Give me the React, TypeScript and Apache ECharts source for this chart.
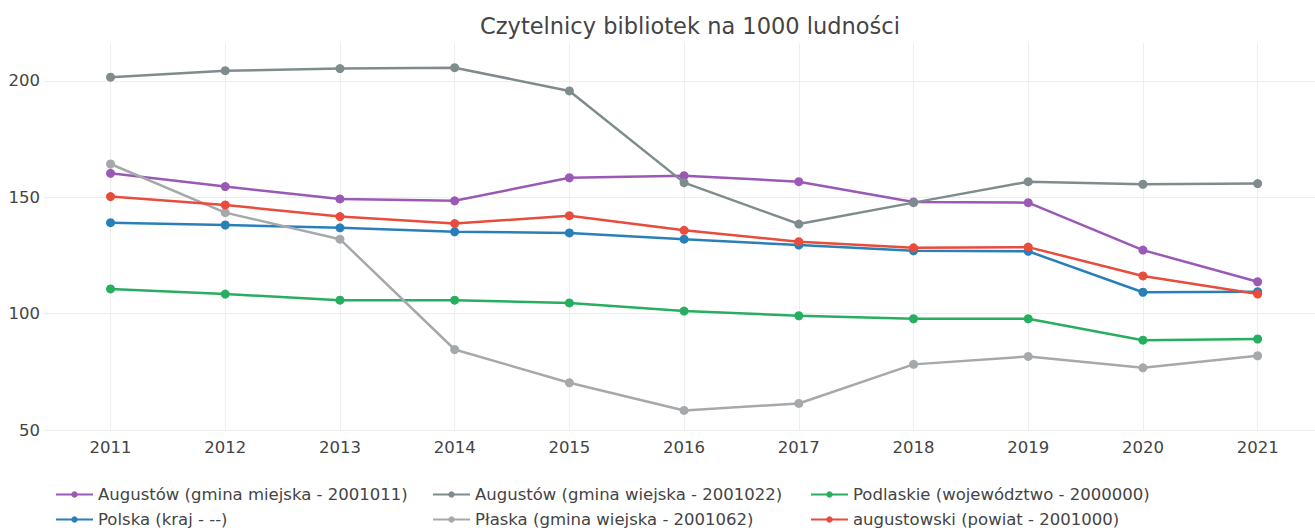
import React, { useEffect, useRef } from "react";
import * as echarts from "echarts";

const years = [2011, 2012, 2013, 2014, 2015, 2016, 2017, 2018, 2019, 2020, 2021];
const yTicks = [50, 100, 150, 200];

const seriesNames = [
  "Augustów (gmina miejska - 2001011)",
  "Augustów (gmina wiejska - 2001022)",
  "Podlaskie (województwo - 2000000)",
  "Polska (kraj - --)",
  "Płaska (gmina wiejska - 2001062)",
  "augustowski (powiat - 2001000)",
];

const augustowMiejska = [160.3, 154.6, 149.3, 148.5, 158.4, 159.3, 156.7, 148.0, 147.7, 127.3, 113.7];
const augustowWiejska = [201.6, 204.4, 205.3, 205.7, 195.7, 156.3, 138.5, 147.7, 156.7, 155.6, 155.9];
const podlaskie = [110.6, 108.4, 105.8, 105.8, 104.6, 101.1, 99.1, 97.8, 97.8, 88.6, 89.1];
const polska = [139.1, 138.1, 136.9, 135.2, 134.7, 132.0, 129.5, 127.0, 126.8, 109.2, 109.4];
const plaska = [164.3, 143.4, 132.0, 84.6, 70.3, 58.4, 61.4, 78.2, 81.6, 76.7, 81.9];
const augustowski = [150.3, 146.7, 141.7, 138.7, 142.1, 135.8, 130.9, 128.3, 128.6, 116.2, 108.4];

const seriesValues = [augustowMiejska, augustowWiejska, podlaskie, polska, plaska, augustowski];
const colors = ["#9b59b6", "#7f8c8d", "#27ae60", "#2980b9", "#a5a9ac", "#e74c3c"];

const FONT = "DejaVu Sans";

export default function App() {
  const ref = useRef<HTMLDivElement>(null);
  useEffect(() => {
    if (!ref.current) return;
    const chart = echarts.init(ref.current, null, { renderer: "svg" });
    const legendPos = [
      { left: 55, top: 486 },
      { left: 432, top: 486 },
      { left: 810, top: 486 },
      { left: 55, top: 511 },
      { left: 432, top: 511 },
      { left: 810, top: 511 },
    ];
    chart.setOption({
      animation: false,
      title: {
        text: "Czytelnicy bibliotek na 1000 ludności",
        left: 685,
        top: 9,
        textAlign: "center",
        textStyle: { fontFamily: FONT, fontSize: 22.5, fontWeight: "normal", color: "#444" },
      },
      grid: { left: 44, right: 0, top: 43, bottom: 101, containLabel: false },
      xAxis: {
        type: "value",
        min: 2010.42,
        max: 2021.5,
        axisLine: { show: false },
        axisTick: { show: false, customValues: years },
        axisLabel: {
          customValues: years,
          fontFamily: FONT,
          fontSize: 16.5,
          color: "#444",
          margin: 9,
          formatter: (v: number) => String(v),
        },
        splitLine: { show: true, lineStyle: { color: "#eeeeee", width: 1 } },
      },
      yAxis: {
        type: "value",
        min: 50,
        max: 216.3,
        axisLine: { show: false },
        axisTick: { show: false, customValues: yTicks },
        axisLabel: {
          customValues: yTicks,
          fontFamily: FONT,
          fontSize: 16.5,
          color: "#444",
          margin: 4,
        },
        splitLine: { show: true, lineStyle: { color: "#eeeeee", width: 1 } },
      },
      legend: seriesNames.map((n, i) => ({
        data: [n],
        left: legendPos[i].left,
        top: legendPos[i].top,
        padding: 0,
        itemWidth: 37,
        itemHeight: 8,
        itemGap: 0,
        textStyle: { fontFamily: FONT, fontSize: 16.5, color: "#444" },
        selectedMode: false,
      })),
      series: seriesNames.map((n, i) => ({
        name: n,
        type: "line",
        data: years.map((y, j) => [y, seriesValues[i][j]]),
        symbol: "circle",
        symbolSize: 9,
        color: colors[i],
        lineStyle: { width: 2.5, color: colors[i] },
        itemStyle: { color: colors[i] },
      })),
    });
    return () => chart.dispose();
  }, []);
  return <div ref={ref} style={{ width: 1315, height: 531, position: "absolute", left: 0, top: 0 }} />;
}
